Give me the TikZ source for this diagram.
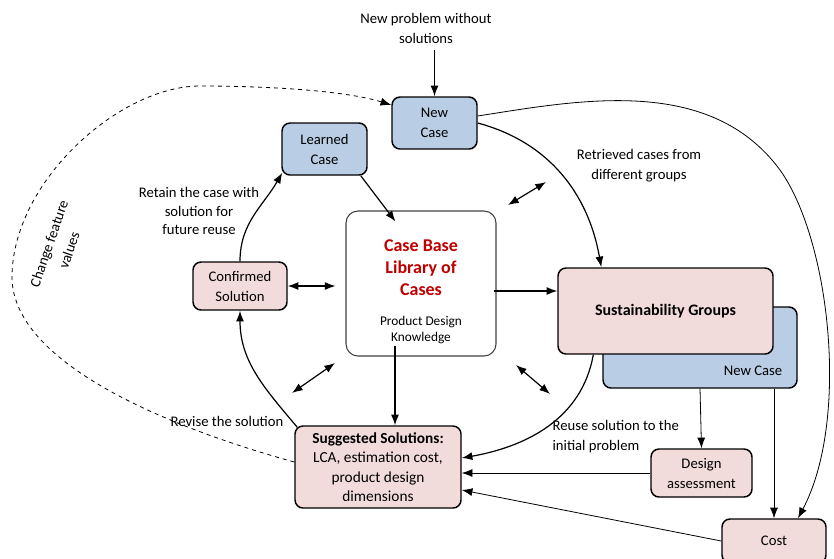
\documentclass[tikz,border=0pt]{standalone}
\usepackage{fontspec}
\setmainfont{Carlito}
\usetikzlibrary{arrows.meta,positioning,calc}
\definecolor{CBBlue}{HTML}{B9CDE5}
\definecolor{CBPink}{HTML}{F2DCDB}
\definecolor{CBRed}{HTML}{C00000}
\tikzset{
    block/.style = {draw, rectangle, rounded corners=6pt,
        line width=1.1pt, align=center, inner sep=2pt},
    bluebox/.style = {block, fill=CBBlue},
    pinkbox/.style = {block, fill=CBPink},
    lbl/.style = {align=center, inner sep=1pt},
    arrow/.style = {draw, -{Latex[length=8pt,width=6pt]}, line width=0.9pt},
    thinarrow/.style = {draw, -{Latex[length=8pt,width=6pt]}, line width=0.6pt},
    dblarrow/.style = {draw, {Latex[length=8pt,width=6pt]}-{Latex[length=8pt,width=6pt]}, line width=0.9pt}
}

\begin{document}
\begin{tikzpicture}[x=0.75pt, y=-0.75pt, every node/.style={font=\fontsize{11}{15}\selectfont}]
        \useasboundingbox (0,0) rectangle (834,558);

        % case boxes
        \node [bluebox, minimum width=63.75pt, minimum height=39pt] (newcase) at (434.5,123) {New\\Case};
        \node [bluebox, minimum width=63.75pt, minimum height=39pt] (learned) at (324.5,149) {Learned\\Case};
        \node [pinkbox, minimum width=70.5pt, minimum height=36pt] (confirmed) at (240,286) {Confirmed\\Solution};
        \node [block, draw=black!75, line width=0.8pt, rounded corners=9pt,
            minimum width=112.5pt, minimum height=108.75pt] (cbase) at (421,283.5) {};
        \node [lbl, text=CBRed, font=\bfseries\fontsize{13.5}{16.5}\selectfont] (cbtitle) at (421,268) {Case Base\\Library of\\Cases};
        \node [lbl, font=\fontsize{10}{12}\selectfont] (cbknow) at (421,330) {Product Design\\Knowledge};
        \node [bluebox, minimum width=145.5pt, minimum height=60.75pt] (sustback) at (700,347.5) {};
        \node [lbl] (sustbacktxt) at (753,371) {New Case};
        \node [pinkbox, minimum width=161.25pt, minimum height=64.5pt,
            font=\bfseries\fontsize{12}{15}\selectfont] (sust) at (665.5,311) {Sustainability Groups};
        \node [pinkbox, minimum width=124.5pt, minimum height=61.5pt,
            font=\fontsize{11.5}{14.5}\selectfont] (sugg) at (378,467) {\textbf{Suggested Solutions:}\\LCA, estimation cost,\\product design\\dimensions};
        \node [pinkbox, minimum width=75.75pt, minimum height=36pt] (design) at (701.5,473) {Design\\assessment};
        \node [pinkbox, minimum width=78pt, minimum height=33pt] (cost) at (774,541) {Cost};

        % labels
        \node [lbl] (newprob) at (426,28) {New problem without\\solutions};
        \node [lbl] (retrieved) at (639,166) {Retrieved cases from\\different groups};
        \node [lbl, font=\fontsize{11}{14}\selectfont] (retain) at (199,211) {Retain the case with\\solution for\\future reuse};
        \node [lbl] (revise) at (227,421) {Revise the solution};
        \node [lbl, align=left, anchor=west] (reuse) at (551,437) {Reuse solution to the\\initial problem};
        \node [lbl, rotate=71, font=\fontsize{11}{16}\selectfont] (change) at (59,247) {Change feature\\values};

        % main cycle
        \draw [arrow] ([yshift=-4pt]newcase.north |- newprob.south) -- (newcase.north);
        \draw [arrow] (newcase.east) to[out=-15,in=100] ($(sust.north west)+(44,0)$);
        \draw [arrow] ($(learned.south east)+(-7,0)$) -- ($(cbase.north west)+(50,11)$);
        \draw [arrow] (confirmed.north) to[out=90,in=-120] ($(learned.south west)+(1,-3)$);
        \draw [arrow] ($(sugg.north west)+(3,2)$) to[out=130,in=-90] (confirmed.south);
        \draw [dblarrow] (confirmed.east) -- ($(confirmed.east -| cbase.west)+(-10,0)$);
        \draw [arrow] ($(cbase.east)+(-3,7.5)$) -- ($(cbase.east -| sust.west)+(0,7.5)$);
        \coordinate (kdown) at ($(cbase.south)+(-26,-11)$);
        \draw [arrow] (kdown) -- (kdown |- sugg.north);
        \draw [arrow] ($(sust.south west)+(36,0)$) to[out=-100,in=10] ($(sugg.east)+(0,-9)$);

        % assessment side
        \draw [thinarrow] (sustback.south) -- (design.north);
        \draw [thinarrow] (sustback.south -| cost.north) -- (cost.north);
        \draw [thinarrow] (design.west) -- (design.west -| sugg.east);
        \draw [thinarrow] (cost.west) -- ($(sugg.east)+(0,23)$);
        \draw [thinarrow] ($(newcase.east)+(0,-7)$) .. controls (580,100) and (710,75) .. (780,170)
            .. controls (830,240) and (850,420) .. ($(cost.north)+(24,0)$);

        % change feature values loop
        \draw [arrow, dashed, line width=0.6pt] ($(sugg.west)+(0,-5)$) .. controls (160,425) and (10,360) .. (12,275)
            .. controls (14,180) and (120,86) .. (200,86) .. controls (280,86) and (350,92) .. ($(newcase.west)+(0,-18)$);

        % exchange with the case base
        \coordinate (da1) at (508,205);
        \coordinate (da2) at (546,182);
        \coordinate (db1) at (292,393);
        \coordinate (db2) at (335,363);
        \coordinate (dc1) at (516,365);
        \coordinate (dc2) at (550,394);
        \foreach \a/\b in {da1/da2,db1/db2,dc1/dc2}{
            \draw [dblarrow] (\a) -- (\b);
        }
\end{tikzpicture}
\end{document}
